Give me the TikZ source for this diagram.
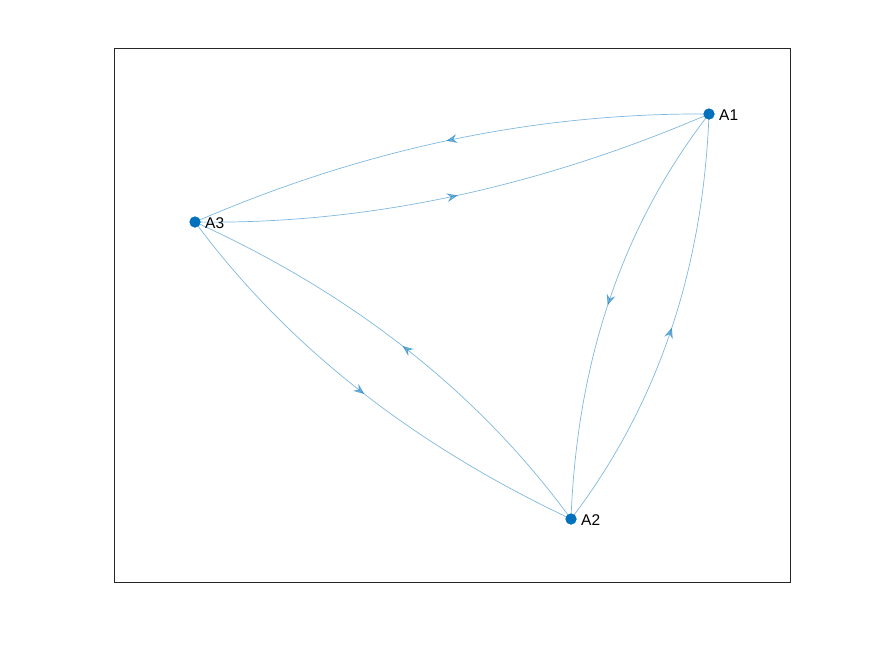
\documentclass[tikz,border=0pt]{standalone}
\usepackage{fontspec}
\setmainfont{Liberation Sans}
\usetikzlibrary{arrows.meta,decorations.markings}
\definecolor{nodeblue}{RGB}{0,114,189}
\begin{document}
\begin{tikzpicture}[x=1pt,y=-1pt,
  vertex/.style={circle,fill=nodeblue,inner sep=0pt,minimum size=11pt},
  vlabel/.style={anchor=west,inner sep=0pt,font=\fontsize{15.5}{17}\selectfont},
  edge/.style={draw=nodeblue,draw opacity=0.5,line width=0.7pt,
    postaction={decorate},
    decoration={markings,mark=at position 0.5 with {\arrow[nodeblue,opacity=0.5]{Stealth[length=11pt,width=9pt,inset=4pt]}}}}]
  \useasboundingbox (0,0) rectangle (875,656);
  % axes frame
  \draw[line width=0.6pt,black!85] (114,48) rectangle (790,582);
  % vertices
  \node[vertex] (A1) at (709,114) {};
  \node[vertex] (A2) at (571,519) {};
  \node[vertex] (A3) at (195,222) {};
  \node[vlabel] (L1) at (719,115) {A1};
  \node[vlabel] (L2) at (581,520) {A2};
  \node[vlabel] (L3) at (205,223) {A3};
  % directed edges (quadratic bends written as cubic controls)
  \draw[edge] (A1.center) .. controls (535,112.7) and (363.7,148.7) .. (A3.center);
  \draw[edge] (A3.center) .. controls (363.7,224.7) and (535,188.7) .. (A1.center);
  \draw[edge] (A1.center) .. controls (623,224.7) and (577,359.7) .. (A2.center);
  \draw[edge] (A2.center) .. controls (657,406.3) and (703,271.3) .. (A1.center);
  \draw[edge] (A2.center) .. controls (479,393) and (353.7,294) .. (A3.center);
  \draw[edge] (A3.center) .. controls (285.7,344.7) and (411,443.7) .. (A2.center);
  % redraw vertices on top
  \fill[nodeblue] (A1) circle (5.5pt) (A2) circle (5.5pt) (A3) circle (5.5pt);
\end{tikzpicture}
\end{document}
